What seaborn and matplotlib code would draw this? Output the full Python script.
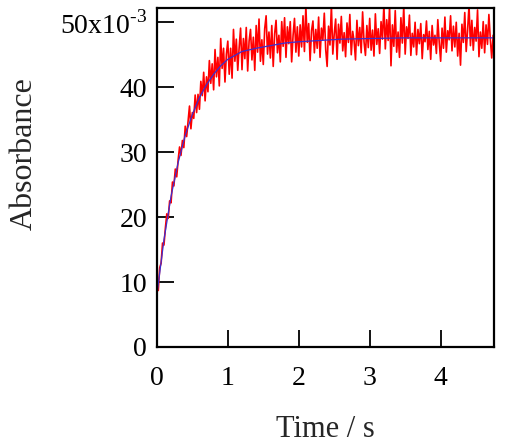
import matplotlib
matplotlib.use("Agg")
import matplotlib.pyplot as plt
import seaborn as sns
import numpy as np
import pandas as pd

# measured trace, absorbance in units of 1e-3, sampled every 0.02 s
red_abs = [
    9.0, 8.7, 12.2, 12.9, 16.0, 15.7, 18.3, 20.5, 19.8, 22.5,
    22.2, 25.4, 24.8, 27.4, 26.2, 28.8, 30.8, 29.5, 31.8, 30.7,
    34.0, 32.4, 34.7, 37.1, 33.6, 36.1, 35.2, 38.8, 36.1, 38.9,
    36.6, 40.9, 38.7, 42.3, 37.9, 41.6, 39.3, 44.1, 40.6, 43.6,
    39.6, 45.8, 41.6, 44.6, 40.2, 47.5, 42.9, 46.0, 40.8, 45.1,
    47.1, 42.0, 46.0, 41.4, 48.9, 44.0, 47.4, 42.6, 46.1, 49.1,
    42.7, 47.5, 44.4, 49.2, 42.5, 47.1, 48.9, 44.2, 47.7, 42.6,
    49.5, 45.4, 50.5, 44.0, 47.3, 43.5, 49.0, 51.0, 45.1, 48.5,
    44.5, 49.5, 43.2, 48.2, 50.3, 45.3, 48.0, 43.9, 50.1, 46.3,
    50.7, 44.6, 49.3, 46.7, 50.1, 43.9, 48.0, 50.6, 45.4, 49.3,
    44.8, 49.6, 46.2, 51.0, 45.5, 52.5, 46.9, 49.8, 44.1, 48.7,
    50.2, 45.3, 48.9, 46.0, 50.8, 44.6, 49.1, 47.3, 51.4, 45.8,
    43.2, 49.4, 46.5, 52.6, 45.1, 48.2, 50.5, 44.3, 49.7, 46.8,
    50.9, 45.6, 48.4, 44.7, 49.9, 46.9, 51.2, 45.0, 48.6, 47.1,
    44.2, 50.3, 46.4, 49.2, 45.3, 51.6, 47.0, 44.9, 49.5, 46.1,
    50.6, 45.7, 48.8, 44.8, 51.3, 46.6, 49.0, 45.2, 50.1, 47.4,
    52.7, 45.9, 50.4, 47.2, 52.4, 43.3, 49.6, 46.3, 51.8, 45.4,
    48.5, 44.6, 50.7, 46.8, 52.5, 45.1, 49.3, 47.5, 51.1, 44.9,
    48.3, 46.2, 50.0, 45.0, 48.9, 46.7, 49.8, 44.4, 48.1, 47.0,
    50.2, 45.8, 48.6, 44.3, 49.5, 46.5, 48.0, 45.2, 50.4, 46.9,
    44.0, 49.1, 46.0, 50.8, 45.4, 48.7, 47.3, 51.0, 45.6, 49.4,
    46.2, 50.0, 44.8, 48.3, 43.4, 49.7, 46.9, 51.5, 45.5, 48.8,
    52.6, 46.4, 50.3, 45.7, 49.2, 47.1, 51.9, 44.7, 48.5, 46.0,
    50.1, 45.3, 49.6, 46.6, 51.2, 47.4, 44.5, 48.0,
]
red_time = np.linspace(0, 4.74, len(red_abs))

# fitted curve
fit_time = [0.0, 0.1, 0.2, 0.3, 0.4, 0.5, 0.6, 0.7, 0.8, 0.9, 1.0,
            1.2, 1.4, 1.6, 1.8, 2.0, 2.3, 2.6, 3.0, 3.5, 4.0, 4.75]
fit_abs = [8.0, 16.5, 23.2, 28.4, 32.6, 35.8, 38.4, 40.4, 42.0, 43.3, 44.3,
           45.5, 46.0, 46.4, 46.8, 47.0, 47.2, 47.4, 47.5, 47.6, 47.6, 47.6]

x_ticks = [0, 1, 2, 3, 4]
y_ticks = [0, 10, 20, 30, 40, 50]
y_labels = ["0", "10", "20", "30", "40", "50x10$^{\\text{-3}}$"]

sns.set_style("ticks")
plt.rcParams['font.family'] = ['Liberation Serif', 'DejaVu Serif']
plt.rcParams['mathtext.fontset'] = 'custom'
plt.rcParams['mathtext.rm'] = 'Liberation Serif'

fig = plt.figure(figsize=(5.06, 4.44), dpi=100)
ax = fig.add_axes([0.310, 0.2185, 0.666, 0.7635])

trace = pd.DataFrame({'t': red_time, 'a': red_abs})
fit = pd.DataFrame({'t': fit_time, 'a': fit_abs})
sns.lineplot(data=trace, x='t', y='a', color='#ff0000', linewidth=1.2, ax=ax)
sns.lineplot(data=fit, x='t', y='a', color='#3a2fd0', linewidth=0.9, ax=ax)

ax.set_xlim(0, 4.75)
ax.set_ylim(0, 52.2)
ax.set_xticks(x_ticks)
ax.set_yticks(y_ticks)
ax.set_yticklabels(y_labels)

for s in ax.spines.values():
    s.set_visible(True)
    s.set_linewidth(1.6)
    s.set_color('black')

ax.tick_params(axis='both', direction='in', length=12, width=1.3,
               labelsize=20, top=False, right=False, colors='black')
ax.tick_params(axis='y', pad=7)
ax.tick_params(axis='x', pad=14)

ax.set_xlabel('Time / s', fontsize=22)
ax.set_ylabel('Absorbance', fontsize=23)
ax.xaxis.set_label_coords(0.5, -0.2)
ax.yaxis.set_label_coords(-0.35, 0.57)

fig.savefig('out.png', dpi=100)
